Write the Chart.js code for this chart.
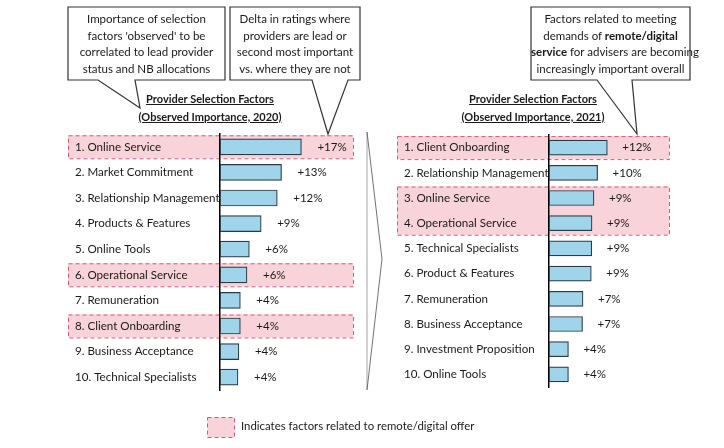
<!DOCTYPE html>
<html>
<head>
<meta charset="utf-8">
<script src="https://cdn.jsdelivr.net/npm/chart.js@4.4.1/dist/chart.umd.min.js"></script>
<style>
  html, body { margin: 0; padding: 0; background: #fff; }
  #wrap { position: relative; width: 724px; height: 448px; overflow: hidden; font-family: Lato, sans-serif; color: #1a1a1a; }
  canvas { position: absolute; top: 0; }
  #leftChart { left: 0; }
  #rightChart { left: 362px; }
  svg { position: absolute; left: 0; top: 0; }
  .note { position: absolute; text-align: center; font-size: 11.5px; line-height: 16.5px; white-space: nowrap; }
  .title { position: absolute; text-align: center; font-weight: bold; font-size: 11px; line-height: 18px; text-decoration: underline; white-space: nowrap; }
  .legend { position: absolute; left: 241px; top: 417px; font-size: 11.4px; line-height: 18px; white-space: nowrap; }
</style>
</head>
<body>
<div id="wrap">
  <canvas id="leftChart" width="362" height="448"></canvas>
  <canvas id="rightChart" width="362" height="448"></canvas>

  <svg width="724" height="448">
    <!-- callouts -->
    <path d="M68,7 H225 V80 H135 L140,108 L98,80 H68 Z" fill="#fff" stroke="#333" stroke-width="1.2"/>
    <path d="M230,7 H360 V80 H348 L328,134 L312,80 H230 Z" fill="#fff" stroke="#333" stroke-width="1.2"/>
    <path d="M531,7 H690 V80 H632 L637,134 L597,80 H531 Z" fill="#fff" stroke="#333" stroke-width="1.2"/>
    <!-- link between the two panels -->
    <line x1="367" y1="132" x2="367" y2="390" stroke="#c4c8cc" stroke-width="1.6"/>
    <polyline points="367,132 382,259 367,390" fill="none" stroke="#4a5058" stroke-width="0.8"/>
    <!-- legend swatch -->
    <rect x="207.5" y="417.5" width="27" height="20" fill="#f8d3da" stroke="#d8587a" stroke-width="1" stroke-dasharray="4,3"/>
  </svg>

  <div class="note" style="left:68px; top:11px; width:157px;">Importance of selection<br>factors 'observed' to be<br>correlated to lead provider<br>status and NB allocations</div>
  <div class="note" style="left:230px; top:11px; width:130px;">Delta in ratings where<br>providers are lead or<br>second most important<br>vs. where they are not</div>
  <div class="note" style="left:531px; top:11px; width:159px;">Factors related to meeting<br>demands of <b>remote/digital</b><br><b>service</b> for advisers are becoming<br>increasingly important overall</div>

  <div class="title" style="left:110px; top:90px; width:200px;">Provider Selection Factors<br>(Observed Importance, 2020)</div>
  <div class="title" style="left:433px; top:90px; width:200px;">Provider Selection Factors<br>(Observed Importance, 2021)</div>

  <div class="legend">Indicates factors related to remote/digital offer</div>
</div>

<script>
const leftCategories = ['1. Online Service', '2. Market Commitment', '3. Relationship Management',
  '4. Products & Features', '5. Online Tools', '6. Operational Service', '7. Remuneration',
  '8. Client Onboarding', '9. Business Acceptance', '10. Technical Specialists'];
const leftValues = [17.2, 13.0, 12.1, 8.7, 6.2, 5.7, 4.3, 4.3, 4.0, 3.8];
const leftHighlight = [[0, 0], [5, 5], [7, 7]];

const rightCategories = ['1. Client Onboarding', '2. Relationship Management', '3. Online Service',
  '4. Operational Service', '5. Technical Specialists', '6. Product & Features', '7. Remuneration',
  '8. Business Acceptance', '9. Investment Proposition', '10. Online Tools'];
const rightValues = [12.0, 10.0, 9.25, 8.85, 8.8, 8.7, 7.0, 6.9, 4.0, 4.0];
const rightHighlight = [[0, 0], [2, 3]];

// pink dashed boxes behind everything + delta labels after the bars
const decorPlugin = {
  id: 'decor',
  beforeDraw(chart, args, opts) {
    const ctx = chart.ctx;
    const y = chart.scales.y;
    ctx.save();
    opts.highlight.forEach(([a, b]) => {
      const top = y.getPixelForValue(a) - opts.half;
      const bottom = y.getPixelForValue(b) + opts.half;
      ctx.fillStyle = '#f8d3da';
      ctx.fillRect(opts.boxLeft, top, opts.boxRight - opts.boxLeft, bottom - top);
      ctx.setLineDash([4, 3]);
      ctx.strokeStyle = '#d8587a';
      ctx.lineWidth = 1;
      ctx.strokeRect(opts.boxLeft + 0.5, top + 0.5, opts.boxRight - opts.boxLeft, bottom - top);
    });
    ctx.restore();
  },
  afterDatasetsDraw(chart, args, opts) {
    const ctx = chart.ctx;
    const meta = chart.getDatasetMeta(0);
    ctx.save();
    ctx.font = '11.5px Lato, sans-serif';
    ctx.fillStyle = '#1a1a1a';
    ctx.textAlign = 'left';
    ctx.textBaseline = 'middle';
    meta.data.forEach((bar, i) => {
      const v = chart.data.datasets[0].data[i];
      ctx.fillText('+' + Math.round(v) + '%', bar.x + opts.gap, bar.y);
    });
    ctx.restore();
  }
};

function renderPanel(canvasId, categories, values, highlight, setup) {
  const ctx = document.getElementById(canvasId).getContext('2d');

  const config = {
    type: 'bar',
    data: {
      labels: categories,
      datasets: [{
        data: values,
        backgroundColor: '#9fd4eb',
        borderColor: '#2b3a44',
        borderWidth: 1.2,
        borderSkipped: false,
        barThickness: setup.barThickness
      }]
    },
    options: {
      indexAxis: 'y',
      responsive: false,
      animation: false,
      layout: { padding: setup.padding },
      scales: {
        x: { display: false, min: 0, max: setup.max },
        y: {
          grid: { display: false },
          border: { display: true, color: '#000', width: 1.5 },
          ticks: {
            crossAlign: 'far',
            padding: 0,
            color: '#1a1a1a',
            font: { family: 'Lato, sans-serif', size: 11.6 }
          },
          afterFit: (scale) => { scale.width = 145; }
        }
      },
      plugins: {
        legend: { display: false },
        tooltip: { enabled: false },
        decor: {
          highlight: highlight,
          boxLeft: setup.boxLeft,
          boxRight: setup.boxRight,
          half: 11.5,
          gap: setup.gap
        }
      }
    },
    plugins: [decorPlugin]
  };

  return new Chart(ctx, config);
}

renderPanel('leftChart', leftCategories, leftValues, leftHighlight, {
  padding: { left: 75, top: 134, bottom: 58, right: 0 },
  max: 30, barThickness: 16, boxLeft: 68, boxRight: 353, gap: 16
});

renderPanel('rightChart', rightCategories, rightValues, rightHighlight, {
  padding: { left: 42, top: 135, bottom: 61, right: 0 },
  max: 36, barThickness: 15, boxLeft: 35, boxRight: 307, gap: 15
});
</script>
</body>
</html>
